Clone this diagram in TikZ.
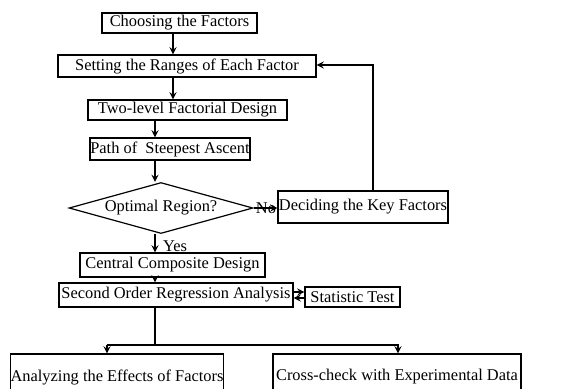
\documentclass[tikz,border=0pt]{standalone}
\usepackage{fontspec}
\setmainfont{Liberation Serif}
\usetikzlibrary{shapes.geometric,arrows}
\tikzset{blk/.style={rectangle,draw,inner sep=0pt,line width=0.6pt,font=\fontsize{8.2}{10}\selectfont},
dec/.style={diamond,draw,inner sep=0pt,aspect=3.5,line width=0.6pt,font=\fontsize{8.2}{10}\selectfont},
lbl/.style={inner sep=0pt,font=\fontsize{8.2}{10}\selectfont}}

\begin{document}
\begin{tikzpicture}[>=stealth,x=0.5pt,y=-0.5pt,line width=0.6pt]
        \useasboundingbox (0,0) rectangle (573,388);
        \node[blk,minimum width=77.5pt,minimum height=10pt] (choose) at (179.5,23) {Choosing the Factors};
        \node[blk,minimum width=129pt,minimum height=11pt] (range) at (187,66) {Setting the Ranges of Each Factor};
        \node[blk,minimum width=99.5pt,minimum height=10pt] (twolev) at (187.5,110) {Two-level Factorial Design};
        \node[blk,minimum width=80pt,minimum height=11pt] (path) at (170,149) {Path of \ Steepest Ascent};
        \node[dec,minimum width=92pt,minimum height=25.5pt] (optim) at (161,208) {Optimal Region?};
        \node[blk,minimum width=85pt,minimum height=16pt] (keyf) at (363,207) {Deciding the Key Factors};
        \node[blk,minimum width=92.5pt,minimum height=12pt] (ccd) at (172.5,265) {Central Composite Design};
        \node[blk,minimum width=117pt,minimum height=12pt] (sora) at (176,295) {Second Order Regression Analysis};
        \node[blk,minimum width=47.5pt,minimum height=10pt] (stat) at (352.5,297) {Statistic Test};
        \node[blk,minimum width=105pt,minimum height=23pt] (effect) at (117,377) {Analyzing the Effects of Factors};
        \node[blk,minimum width=124pt,minimum height=23pt] (check) at (397,377) {Cross-check with Experimental Data};
        \node[lbl] (no) at (266,208) {No};
        \node[lbl] (yes) at (175,246) {Yes};

        \coordinate (c1) at (173,0);
        \coordinate (c2) at (155,0);
        \coordinate (up) at (373,65);
        \coordinate (split) at (155,345);
        \coordinate (lft) at (107,345);
        \coordinate (rgt) at (398,345);

        \draw [->] (choose.south -| c1) to (range.north -| c1);
        \draw [->] (range.south -| c1) to (twolev.north -| c1);
        \draw [->] (twolev.south -| c2) to (path.north -| c2);
        \draw [->] (path.south -| c2) to (optim.north -| c2);
        \draw [->] (optim.east) to (keyf.west |- optim.east);
        \draw [->] (keyf.north -| up) to (up) to (range.east |- up);
        \draw [->] (optim.south -| c2) to (ccd.north -| c2);
        \draw [->] (ccd.south -| c2) to (sora.north -| c2);
        \draw [->] ([yshift=1.5pt]sora.east) to ([yshift=1.5pt]sora.east -| stat.west);
        \draw [->] ([yshift=-1.5pt]sora.east -| stat.west) to ([yshift=-1.5pt]sora.east);
        \draw [] (sora.south -| split) to (split);
        \draw [->] (lft) to (rgt) to (check.north -| rgt);
        \draw [->] (lft) to (effect.north -| lft);
    \end{tikzpicture}
\end{document}
